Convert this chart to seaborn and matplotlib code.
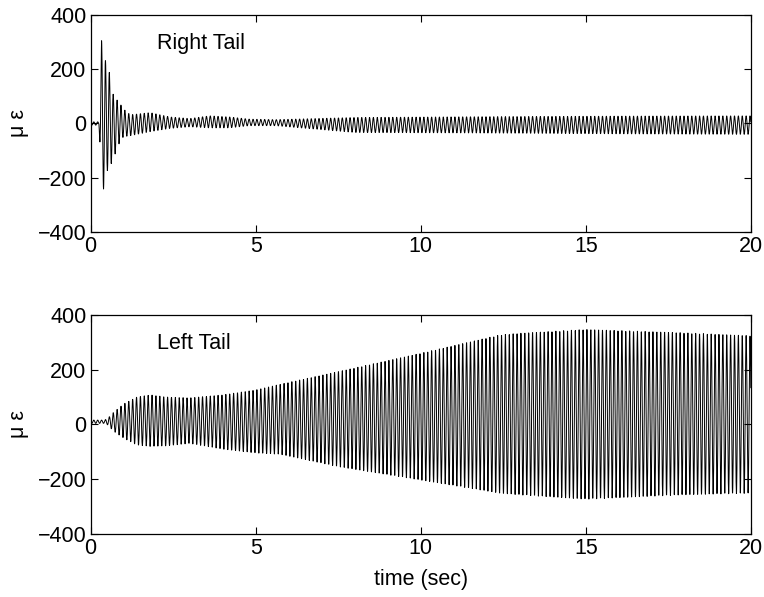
import numpy as np
import pandas as pd
import matplotlib
matplotlib.use("Agg")
import matplotlib.pyplot as plt
import seaborn as sns

# envelope knots: time (sec), upper / lower strain (micro-strain)
right_t = [0, 0.25, 0.33, 0.39, 0.448, 0.507, 0.566, 0.625, 0.683, 0.742, 0.801, 0.86,
           0.919, 0.978, 1.036, 1.2, 1.8, 2.4, 3.0, 3.6, 4.2, 4.8, 5.6, 8, 12, 16, 20]
right_upper = [6, 6, 305, 265, 232, 210, 188, 150, 107, 96, 86, 77,
               68, 58, 49, 32, 40, 24, 18, 28, 24, 16, 14, 22, 25, 27, 28]
right_lower = [-6, -6, -200, -242, -205, -173, -160, -148, -130, -112, -90, -75,
               -62, -51, -48, -45, -30, -18, -12, -16, -16, -8, -8, -33, -35, -38, -40]

left_t = [0, 0.4, 0.5, 0.7, 1.0, 1.4, 1.8, 2.3, 3.0, 4.0, 5.0, 5.75, 7.5, 10, 12.4, 13, 15, 17.9, 20]
left_upper = [16, 16, 20, 45, 75, 100, 108, 100, 97, 108, 126, 147, 193, 260, 327, 333, 347, 335, 324]
left_lower = [4, 4, 0, -25, -50, -75, -80, -78, -69, -90, -104, -109, -154, -203, -251, -257, -273, -257, -251]

carrier_hz = 8.5
first_peak = 0.33   # time of the first big crest
sample_hz = 200
panels = [("Right Tail", right_t, right_upper, right_lower),
          ("Left Tail", left_t, left_upper, left_lower)]


def build_trace(knots_t, upper, lower):
    t = np.arange(0, 20 + 1 / sample_hz, 1 / sample_hz)
    up = np.interp(t, knots_t, upper)
    lo = np.interp(t, knots_t, lower)
    y = (up + lo) / 2 + (up - lo) / 2 * np.cos(2 * np.pi * carrier_hz * (t - first_peak))
    return pd.DataFrame({"time": t, "strain": y})


sns.set_style("ticks")
plt.rcParams["font.family"] = ["Liberation Sans", "DejaVu Sans"]
plt.rcParams["text.color"] = "black"
plt.rcParams["axes.labelcolor"] = "black"

fig = plt.figure(figsize=(7.64, 5.97), dpi=100)
boxes = [[0.1187, 0.6114, 0.864, 0.3635], [0.1187, 0.1055, 0.864, 0.367]]
fs = 15.5

for box, (name, kt, ku, kl) in zip(boxes, panels):
    ax = fig.add_axes(box)
    df = build_trace(kt, ku, kl)
    sns.lineplot(data=df, x="time", y="strain", ax=ax, color="black",
                 lw=0.7, estimator=None, sort=False)
    ax.set_xlim(0, 20)
    ax.set_ylim(-400, 400)
    ax.set_xticks([0, 5, 10, 15, 20])
    ax.set_yticks([-400, -200, 0, 200, 400])
    ax.tick_params(direction="in", top=True, right=True, length=5, width=0.8,
                   labelsize=fs, pad=3, colors="black")
    for s in ax.spines.values():
        s.set_visible(True)
        s.set_linewidth(0.9)
        s.set_color("black")
    ax.set_ylabel("\u03bc \u03b5", fontsize=fs, labelpad=6, color="black")
    ax.set_xlabel("")
    ax.text(2.0, 295, name, fontsize=fs, ha="left", va="center", color="black")

ax.set_xlabel("time (sec)", fontsize=fs, labelpad=7, color="black")

fig.savefig("out.png", dpi=100)
